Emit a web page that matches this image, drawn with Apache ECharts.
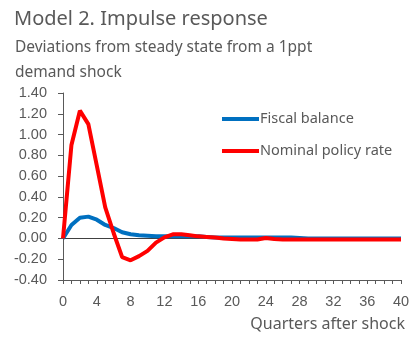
<!DOCTYPE html>
<html><head><meta charset="utf-8">
<script src="https://cdn.jsdelivr.net/npm/echarts@6/dist/echarts.min.js"></script>
<style>html,body{margin:0;padding:0;background:#fff}#c{width:415px;height:353px}</style>
</head><body><div id="c"></div>
<script>
const quarters = Array.from({length: 41}, (_, i) => i);
const fiscalBalance = [0.00,0.13,0.20,0.21,0.18,0.13,0.10,0.06,0.04,0.03,0.025,0.02,0.02,0.02,0.02,0.02,0.02,0.015,0.01,0.01,0.01,0.01,0.01,0.01,0.01,0.01,0.01,0.01,0.005,0.0,0.0,0.0,0.0,0.0,0.0,0.0,0.0,0.0,0.0,0.0,0.0];
const policyRate = [0.00,0.90,1.23,1.10,0.70,0.30,0.05,-0.18,-0.21,-0.17,-0.12,-0.04,0.01,0.04,0.04,0.03,0.02,0.015,0.01,0.0,-0.005,-0.01,-0.01,-0.01,0.005,-0.005,-0.01,-0.01,-0.01,-0.01,-0.01,-0.01,-0.01,-0.01,-0.01,-0.01,-0.01,-0.01,-0.01,-0.01,-0.01];
const seriesNames = ['Fiscal balance', 'Nominal policy rate'];
const yTicks = {min: -0.4, max: 1.4, step: 0.2};
const xTicks = {min: 0, max: 40, step: 4};

const txt = '#595959';
const chart = echarts.init(document.getElementById('c'), null, {renderer: 'canvas'});
chart.setOption({
  animation: false,
  title: [
    {text: 'Model 2. Impulse response', left: 9, top: 4, textStyle: {fontFamily: 'Noto Sans', fontSize: 20, fontWeight: 'normal', color: txt}},
    {text: 'Deviations from steady state from a 1ppt\ndemand shock', left: 10, top: 30, textStyle: {fontFamily: 'Noto Sans', fontSize: 15.5, fontWeight: 'normal', color: txt, lineHeight: 25}}
  ],
  legend: {
    orient: 'vertical', left: 217, top: 105, itemWidth: 37, itemHeight: 4, itemGap: 14, icon: 'rect',
    textStyle: {fontFamily: 'Noto Sans', fontSize: 14.5, color: txt, padding: [0,0,0,-4], lineHeight: 18},
    data: seriesNames
  },
  grid: {left: 63, right: 14, top: 93, bottom: 73, containLabel: false},
  xAxis: {
    type: 'value', min: xTicks.min, max: xTicks.max, interval: xTicks.step,
    name: 'Quarters after shock', nameLocation: 'end', nameGap: 0,
    nameTextStyle: {fontFamily: 'Noto Sans', fontSize: 16, color: txt, align: 'right', verticalAlign: 'top', padding: [36, -4, 0, 0]},
    axisLine: {onZero: false, lineStyle: {color: '#595959', width: 1}},
    axisTick: {show: true, length: 4, lineStyle: {color: '#595959'}},
    minorTick: {show: true, splitNumber: 4, length: 4, lineStyle: {color: '#595959'}},
    axisLabel: {fontFamily: 'Liberation Sans', fontSize: 14.5, color: txt, margin: 14},
    splitLine: {show: false}
  },
  yAxis: {
    type: 'value', min: yTicks.min, max: yTicks.max, interval: yTicks.step,
    axisLine: {show: true, lineStyle: {color: '#595959', width: 1}},
    axisTick: {show: true, length: 5, lineStyle: {color: '#595959'}},
    axisLabel: {fontFamily: 'Liberation Sans', fontSize: 14.5, color: txt, margin: 16, formatter: v => v.toFixed(2)},
    splitLine: {show: false}
  },
  series: [
    {
      name: seriesNames[0], type: 'line', data: quarters.map((q, i) => [q, fiscalBalance[i]]),
      showSymbol: false, symbol: 'none', lineStyle: {color: '#0070C0', width: 4}, itemStyle: {color: '#0070C0'}, z: 3,
      markLine: {silent: true, symbol: 'none', label: {show: false}, lineStyle: {color: '#404040', width: 1, type: 'solid'}, data: [{yAxis: 0}], z: 1}
    },
    {
      name: seriesNames[1], type: 'line', data: quarters.map((q, i) => [q, policyRate[i]]),
      showSymbol: false, symbol: 'none', lineStyle: {color: '#FF0000', width: 4}, itemStyle: {color: '#FF0000'}, z: 4
    }
  ]
});
</script></body></html>
